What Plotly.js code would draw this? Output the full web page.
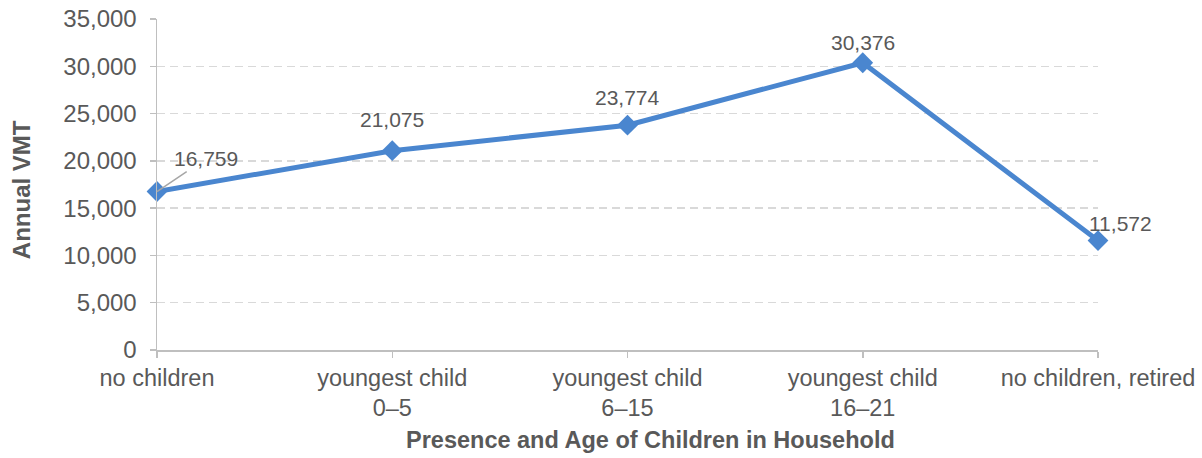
<!DOCTYPE html>
<html>
<head>
<meta charset="utf-8">
<script src="https://cdn.plot.ly/plotly-3.0.1.min.js"></script>
<style>html,body{margin:0;padding:0;background:#fff;}#chart{width:1202px;height:458px;}</style>
</head>
<body>
<div id="chart"></div>
<script>
const categories = ["no children", "youngest child<br>0–5", "youngest child<br>6–15", "youngest child<br>16–21", "no children, retired"];
const annualVMT = [16759, 21075, 23774, 30376, 11572];
const valueLabels = ["16,759", "21,075", "23,774", "30,376", "11,572"];
const yTickVals = [0, 5000, 10000, 15000, 20000, 25000, 30000, 35000];
const yTickText = ["0", "5,000", "10,000", "15,000", "20,000", "25,000", "30,000", "35,000"];
const xTitle = "Presence and Age of Children in Household";
const yTitle = "Annual VMT";

// label offsets (pixels) — layout only
const labelDx = [0, 0, 0, 0, 22];
const labelDy = [0, 31, 28, 20, 17];

const txt = '#595959';
const font = 'Liberation Sans, Arial, sans-serif';

const annotations = annualVMT.map((v, i) => {
  if (i === 0) {
    return {x: i, y: v, xref: 'x', yref: 'y', text: valueLabels[i], showarrow: true,
      arrowhead: 0, arrowwidth: 1.5, arrowcolor: '#a6a6a6', ax: 49, ay: -33, standoff: 0,
      font: {family: font, size: 21, color: txt}};
  }
  return {x: i, y: v, xref: 'x', yref: 'y', text: valueLabels[i], showarrow: false,
    xshift: labelDx[i], yshift: labelDy[i], font: {family: font, size: 21, color: txt}};
});

annotations.push({
  xref: 'paper', yref: 'paper', x: 0.524, y: -0.272, xanchor: 'center', yanchor: 'middle',
  text: '<b>' + xTitle + '</b>', showarrow: false, font: {family: font, size: 23.5, color: txt}
});
annotations.push({
  xref: 'paper', yref: 'paper', x: -0.1445, y: 0.483, xanchor: 'center', yanchor: 'middle',
  textangle: -90, text: '<b>' + yTitle + '</b>', showarrow: false, font: {family: font, size: 24, color: txt}
});

const trace = {
  x: categories.map((c, i) => i),
  y: annualVMT,
  type: 'scatter',
  mode: 'lines+markers',
  cliponaxis: false,
  line: {color: '#4a86cf', width: 5},
  marker: {symbol: 'diamond', size: 16, color: '#4a86cf'},
  hoverinfo: 'skip'
};

const layout = {
  width: 1202, height: 458,
  margin: {l: 157, r: 104, t: 19, b: 108},
  paper_bgcolor: '#fff', plot_bgcolor: '#fff',
  showlegend: false,
  font: {family: font, color: txt},
  xaxis: {
    range: [0, 4],
    tickmode: 'array',
    tickvals: categories.map((c, i) => i),
    ticktext: categories,
    ticks: 'outside', ticklen: 6, tickcolor: '#bfbfbf', tickwidth: 1.5,
    showgrid: false, zeroline: false,
    showline: true, linecolor: '#bfbfbf', linewidth: 1.5,
    tickfont: {family: font, size: 23.5, color: txt},
    fixedrange: true
  },
  yaxis: {
    range: [0, 35000],
    tickmode: 'array', tickvals: yTickVals, ticktext: yTickText,
    ticks: 'outside', ticklen: 6, tickcolor: '#bfbfbf', tickwidth: 1.5,
    ticklabelstandoff: 8,
    showgrid: true, gridcolor: '#d9d9d9', gridwidth: 1.5, griddash: '8px,5px',
    zeroline: false,
    showline: true, linecolor: '#bfbfbf', linewidth: 1.5,
    tickfont: {family: font, size: 24, color: txt},
    fixedrange: true
  },
  annotations: annotations
};

Plotly.newPlot('chart', [trace], layout, {displayModeBar: false, staticPlot: true});
</script>
</body>
</html>
